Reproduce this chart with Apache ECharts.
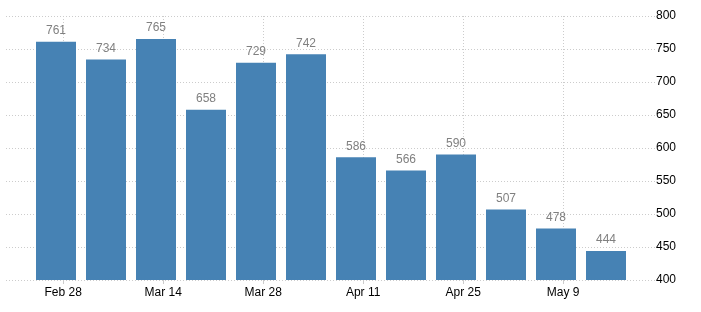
<!DOCTYPE html>
<html>
<head>
<meta charset="utf-8">
<script src="https://cdn.jsdelivr.net/npm/echarts@6/dist/echarts.min.js"></script>
<style>html,body{margin:0;padding:0;background:#fff}#c{width:701px;height:312px}</style>
</head>
<body>
<div id="c"></div>
<script>
// Weekly observation dates (2015) and values
var dates = ['2015-02-27','2015-03-06','2015-03-13','2015-03-20','2015-03-27','2015-04-03','2015-04-10','2015-04-17','2015-04-24','2015-05-01','2015-05-08','2015-05-15'];
var values = [761, 734, 765, 658, 729, 742, 586, 566, 590, 507, 478, 444];
// X tick labels and their dates
var tickLabels = ['Feb 28','Mar 14','Mar 28','Apr 11','Apr 25','May 9'];
var tickDates = ['2015-02-28','2015-03-14','2015-03-28','2015-04-11','2015-04-25','2015-05-09'];
// Y axis ticks
var yMin = 400, yMax = 800, yStep = 50;

var origin = Date.UTC(2015,1,28);
function dayNum(s){ var p=s.split('-'); return Math.round((Date.UTC(+p[0],+p[1]-1,+p[2])-origin)/86400000); }
var barData = dates.map(function(d,i){ return [dayNum(d), values[i]]; });
var tickVals = tickDates.map(dayNum);
var labelMap = {}; tickVals.forEach(function(v,i){ labelMap[v]=tickLabels[i]; });

var chart = echarts.init(document.getElementById('c'), null, {renderer:'canvas'});
chart.setOption({
  animation:false,
  backgroundColor:'#fff',
  grid:{left:6, right:45, top:16, bottom:32, containLabel:false},
  xAxis:{
    type:'value', min:-8, max:83,
    axisLine:{show:false},
    axisTick:{show:true, customValues:tickVals, length:4, lineStyle:{color:'#ccc'}},
    axisLabel:{customValues:tickVals, formatter:function(v){return labelMap[v]||'';}, color:'#000', fontSize:12, fontFamily:'Liberation Sans, Arial, sans-serif', margin:7},
    splitLine:{show:true, lineStyle:{color:'#ccc', type:[1,2], width:1}}
  },
  yAxis:{
    type:'value', position:'right', min:yMin, max:yMax, interval:yStep,
    axisLine:{show:false}, axisTick:{show:false},
    axisLabel:{color:'#000', fontSize:12, fontFamily:'Liberation Sans, Arial, sans-serif', margin:0},
    splitLine:{show:true, lineStyle:{color:'#ccc', type:[1,2], width:1}}
  },
  series:[{
    type:'bar', data:barData, barWidth:40,
    itemStyle:{color:'#4682B4'},
    label:{show:true, position:'top', distance:5, color:'#808080', fontSize:12, fontFamily:'Liberation Sans, Arial, sans-serif'}
  }]
});
</script>
</body>
</html>
